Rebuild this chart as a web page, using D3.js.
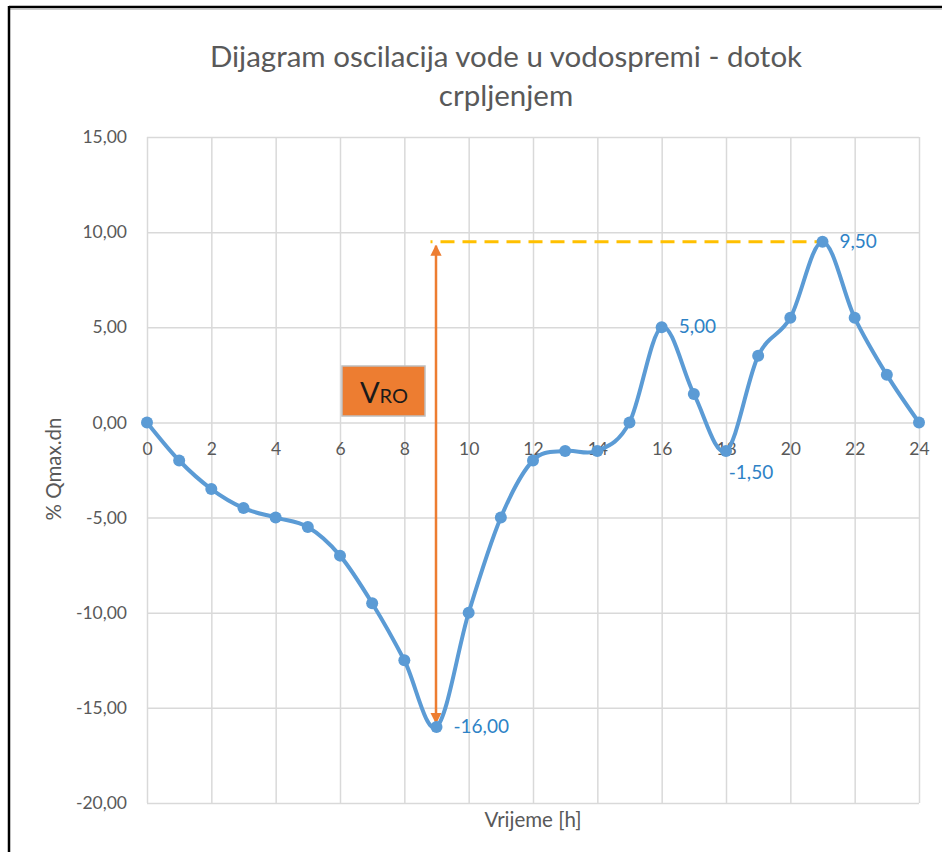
<!DOCTYPE html>
<html>
<head>
<meta charset="utf-8">
<script src="https://cdn.jsdelivr.net/npm/d3@7"></script>
<style>
  body { margin: 0; background: #fff; }
  svg { display: block; }
</style>
</head>
<body>
<div id="chart"></div>
<script>
// data
let hours = [0, 1, 2, 3, 4, 5, 6, 7, 8, 9, 10, 11, 12, 13, 14, 15, 16, 17, 18, 19, 20, 21, 22, 23, 24];
let oscillation = [0, -2, -3.5, -4.5, -5, -5.5, -7, -9.5, -12.5, -16, -10, -5, -2, -1.5, -1.5, 0, 5, 1.5, -1.5, 3.5, 5.5, 9.5, 5.5, 2.5, 0];
let xTicks = [0, 2, 4, 6, 8, 10, 12, 14, 16, 18, 20, 22, 24];
let yTicks = [-20, -15, -10, -5, 0, 5, 10, 15];
let labelledHours = [9, 16, 18, 21];
let titleLines = ["Dijagram oscilacija vode u vodospremi - dotok", "crpljenjem"];
let xTitle = "Vrijeme [h]";
let yTitle = "% Qmax.dn";
let vroFrom = 9;   // hour of minimum
let vroTo = 21;    // hour of maximum

const width = 942, height = 852;
const margin = { top: 137, bottom: 49, left: 147, right: 23 };
const fontFamily = "Lato, 'Open Sans', sans-serif";
const lineColor = "#5B9BD5";
const labelColor = "#2E82C6";
const textColor = "#595959";
const gridColor = "#D9D9D9";

let svg = d3.select("#chart").append("svg")
  .attr("width", width)
  .attr("height", height);

// frame
svg.append("line").attr("x1", 9).attr("x2", width).attr("y1", 7).attr("y2", 7)
  .attr("stroke", "#000").attr("stroke-width", 2.5);
svg.append("line").attr("x1", 9).attr("x2", width).attr("y1", 9.5).attr("y2", 9.5)
  .attr("stroke", "#ccc").attr("stroke-width", 1);
svg.append("line").attr("x1", 9).attr("x2", 9).attr("y1", 6).attr("y2", height)
  .attr("stroke", "#000").attr("stroke-width", 2.5);

let xScale = d3.scaleLinear()
  .domain([0, 24])
  .range([margin.left, width - margin.right]);

let yScale = d3.scaleLinear()
  .domain([-20, 15])
  .range([height - margin.bottom, margin.top]);

// grid
svg.append("g")
  .attr("transform", `translate(0, ${height - margin.bottom})`)
  .call(d3.axisBottom(xScale).tickValues(xTicks).tickSize(-(height - margin.top - margin.bottom)).tickFormat(""))
  .call(g => g.select(".domain").remove())
  .call(g => g.selectAll("line").attr("stroke", gridColor).attr("stroke-width", 1.5));

svg.append("g")
  .attr("transform", `translate(${margin.left}, 0)`)
  .call(d3.axisLeft(yScale).tickValues(yTicks).tickSize(-(width - margin.left - margin.right)).tickFormat(""))
  .call(g => g.select(".domain").remove())
  .call(g => g.selectAll("line").attr("stroke", gridColor).attr("stroke-width", 1.5));

let fmt = v => d3.format(".2f")(v).replace(".", ",").replace("−", "-");

// y tick labels
svg.append("g")
  .attr("transform", `translate(${margin.left}, 0)`)
  .call(d3.axisLeft(yScale).tickValues(yTicks).tickSize(0).tickPadding(20).tickFormat(fmt))
  .call(g => g.select(".domain").remove())
  .call(g => g.selectAll("text").attr("fill", textColor).attr("font-size", "17.5px").attr("font-family", fontFamily));

// x tick labels sit on the zero line
svg.append("g")
  .attr("transform", `translate(0, ${yScale(0)})`)
  .call(d3.axisBottom(xScale).tickValues(xTicks).tickSize(0).tickPadding(20))
  .call(g => g.select(".domain").remove())
  .call(g => g.selectAll("text").attr("fill", textColor).attr("font-size", "17.5px").attr("font-family", fontFamily));

// title
svg.append("g").selectAll("text")
  .data(titleLines)
  .enter()
  .append("text")
  .text(d => d)
  .attr("x", 506)
  .attr("y", (d, i) => 67 + i * 39)
  .attr("text-anchor", "middle")
  .attr("font-size", "29.5px")
  .attr("font-family", fontFamily)
  .attr("fill", textColor);

// axis titles
svg.append("text")
  .text(xTitle)
  .attr("x", 533)
  .attr("y", 827)
  .attr("text-anchor", "middle")
  .attr("font-size", "20.5px")
  .attr("font-family", fontFamily)
  .attr("fill", textColor);

svg.append("text")
  .text(yTitle)
  .attr("transform", `translate(61, 469) rotate(-90)`)
  .attr("text-anchor", "middle")
  .attr("font-size", "20.5px")
  .attr("font-family", fontFamily)
  .attr("fill", textColor);

let points = hours.map((h, i) => ({ h: h, v: oscillation[i] }));

// dashed max line
let vMax = oscillation[hours.indexOf(vroTo)];
let vMin = oscillation[hours.indexOf(vroFrom)];
svg.append("line")
  .attr("x1", xScale(vroFrom) - 6)
  .attr("x2", xScale(vroTo))
  .attr("y1", yScale(vMax))
  .attr("y2", yScale(vMax))
  .attr("stroke", "#FFC000")
  .attr("stroke-width", 3)
  .attr("stroke-dasharray", "14 8")
  .attr("stroke-dashoffset", 12);

// orange arrow
let defs = svg.append("defs");
defs.append("marker")
  .attr("id", "head")
  .attr("viewBox", "0 0 10 10")
  .attr("refX", 9).attr("refY", 5)
  .attr("markerWidth", 4.5).attr("markerHeight", 5)
  .attr("markerUnits", "strokeWidth")
  .attr("orient", "auto-start-reverse")
  .append("path")
  .attr("d", "M0,0 L10,5 L0,10 Z")
  .attr("fill", "#ED7D31");

svg.append("line")
  .attr("x1", xScale(vroFrom) - 0.5)
  .attr("x2", xScale(vroFrom) - 0.5)
  .attr("y1", yScale(vMin) - 4)
  .attr("y2", yScale(vMax) + 4)
  .attr("stroke", "#ED7D31")
  .attr("stroke-width", 2.5)
  .attr("marker-start", "url(#head)")
  .attr("marker-end", "url(#head)");

// VRO box
let vro = svg.append("g").attr("transform", "translate(342, 366)");
vro.append("rect")
  .attr("width", 83).attr("height", 50)
  .attr("fill", "#ED7D31")
  .attr("stroke", "#BFBFBF")
  .attr("stroke-width", 1.5);
let vroText = vro.append("text")
  .attr("x", 42).attr("y", 37)
  .attr("text-anchor", "middle")
  .attr("font-family", fontFamily)
  .attr("fill", "#1a1a1a");
vroText.append("tspan").text("V").attr("font-size", "29px");
vroText.append("tspan").text("RO").attr("font-size", "20px");

// smoothed line
let line = d3.line()
  .x(d => xScale(d.h))
  .y(d => yScale(d.v))
  .curve(d3.curveCardinal.tension(0));

svg.append("path")
  .datum(points)
  .attr("d", line)
  .attr("fill", "none")
  .attr("stroke", lineColor)
  .attr("stroke-width", 4)
  .attr("stroke-linejoin", "round");

// markers
svg.append("g").selectAll("circle")
  .data(points)
  .enter()
  .append("circle")
  .attr("cx", d => xScale(d.h))
  .attr("cy", d => yScale(d.v))
  .attr("r", 6)
  .attr("fill", lineColor);

// data labels
svg.append("g").selectAll("text")
  .data(points.filter(d => labelledHours.includes(d.h)))
  .enter()
  .append("text")
  .text(d => fmt(d.v))
  .attr("x", d => d.h === 18 ? xScale(d.h) + 25 : xScale(d.h) + 17)
  .attr("y", d => d.h === 18 ? yScale(d.v) + 28 : yScale(d.v) + 6)
  .attr("text-anchor", d => d.h === 18 ? "middle" : "start")
  .attr("font-size", "19px")
  .attr("font-family", fontFamily)
  .attr("fill", labelColor);
</script>
</body>
</html>
